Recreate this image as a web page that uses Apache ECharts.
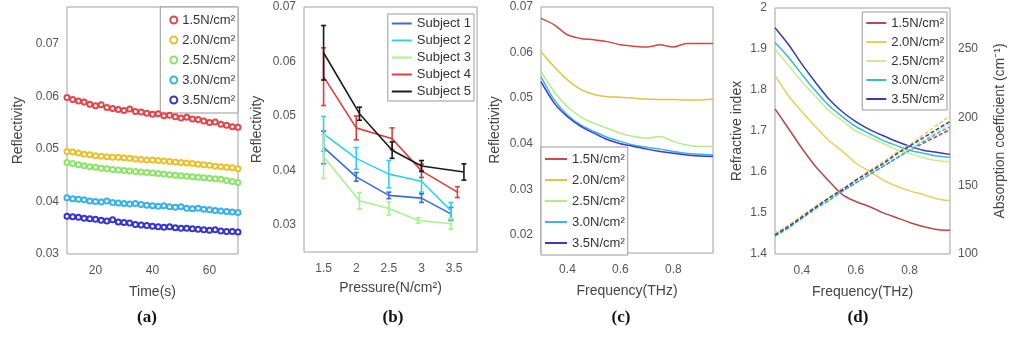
<!DOCTYPE html>
<html><head><meta charset="utf-8">
<script src="https://cdn.jsdelivr.net/npm/echarts@6/dist/echarts.min.js"></script>
<style>html,body{margin:0;padding:0;background:#fff}#c{width:1009px;height:338px}</style>
</head><body><div id="c"></div><script>
// ---------- Panel (a): reflectivity vs time ----------
const timeS = [10,12,14,16,18,20,22,24,26,28,30,32,34,36,38,40,42,44,46,48,50,52,54,56,58,60,62,64,66,68,70];
const pressLabels = ['1.5N/cm²','2.0N/cm²','2.5N/cm²','3.0N/cm²','3.5N/cm²'];
const reflA_15 = [0.0598,0.0594,0.0591,0.0589,0.0585,0.0582,0.0584,0.0579,0.0577,0.0575,0.0573,0.0576,0.0571,0.0570,0.0568,0.0566,0.0567,0.0563,0.0564,0.0561,0.0559,0.0560,0.0557,0.0556,0.0553,0.0550,0.0551,0.0547,0.0545,0.0542,0.0541];
const reflA_20 = [0.0495,0.0494,0.0492,0.0490,0.0489,0.0487,0.0486,0.0485,0.0484,0.0484,0.0483,0.0482,0.0481,0.0480,0.0479,0.0479,0.0478,0.0477,0.0476,0.0475,0.0474,0.0473,0.0472,0.0471,0.0470,0.0469,0.0467,0.0466,0.0465,0.0464,0.0462];
const reflA_25 = [0.0474,0.0472,0.0470,0.0468,0.0466,0.0465,0.0463,0.0462,0.0461,0.0460,0.0459,0.0458,0.0457,0.0456,0.0455,0.0454,0.0453,0.0452,0.0451,0.0450,0.0449,0.0448,0.0447,0.0446,0.0445,0.0444,0.0443,0.0442,0.0440,0.0438,0.0436];
const reflA_30 = [0.0407,0.0405,0.0404,0.0403,0.0401,0.0400,0.0399,0.0401,0.0398,0.0397,0.0396,0.0395,0.0396,0.0394,0.0393,0.0392,0.0391,0.0392,0.0390,0.0389,0.0390,0.0387,0.0386,0.0387,0.0385,0.0384,0.0383,0.0382,0.0381,0.0380,0.0379];
const reflA_35 = [0.0372,0.0371,0.0370,0.0368,0.0367,0.0366,0.0364,0.0363,0.0365,0.0361,0.0360,0.0359,0.0356,0.0355,0.0354,0.0353,0.0352,0.0351,0.0352,0.0350,0.0349,0.0349,0.0348,0.0347,0.0346,0.0345,0.0346,0.0344,0.0343,0.0343,0.0342];

// ---------- Panel (b): reflectivity vs pressure per subject ----------
const subjects = ['Subject 1','Subject 2','Subject 3','Subject 4','Subject 5'];
const pressB_S1 = [1.5, 2.0, 2.5, 3.0, 3.45];
const meanB_S1  = [0.0442, 0.0388, 0.0354, 0.0349, 0.0320];
const errB_S1   = [0.0030, 0.0008, 0.0006, 0.0008, 0.0012];
const pressB_S2 = [1.5, 2.0, 2.5, 3.0, 3.45];
const meanB_S2  = [0.0467, 0.0422, 0.0393, 0.0380, 0.0326];
const errB_S2   = [0.0032, 0.0020, 0.0025, 0.0020, 0.0015];
const pressB_S3 = [1.5, 2.05, 2.5, 2.95, 3.45];
const meanB_S3  = [0.0425, 0.0344, 0.0330, 0.0308, 0.0302];
const errB_S3   = [0.0040, 0.0015, 0.0012, 0.0005, 0.0010];
const pressB_S4 = [1.5, 2.0, 2.55, 3.0, 3.55];
const meanB_S4  = [0.0572, 0.0478, 0.0458, 0.0399, 0.0360];
const errB_S4   = [0.0053, 0.0022, 0.0020, 0.0012, 0.0010];
const pressB_S5 = [1.5, 2.05, 2.55, 3.0, 3.65];
const meanB_S5  = [0.0616, 0.0504, 0.0437, 0.0408, 0.0397];
const errB_S5   = [0.0050, 0.0012, 0.0015, 0.0010, 0.0015];

// ---------- Panels (c),(d): frequency spectra ----------
const freq = [0.30,0.35,0.40,0.45,0.50,0.55,0.60,0.65,0.70,0.75,0.80,0.85,0.90,0.95];
const reflC_15 = [0.0675,0.0661,0.0639,0.0631,0.0628,0.0624,0.0617,0.0614,0.0612,0.0617,0.0612,0.0620,0.0620,0.0620];
const reflC_20 = [0.0602,0.0569,0.0540,0.0519,0.0508,0.0503,0.0502,0.0500,0.0498,0.0497,0.0497,0.0496,0.0496,0.0498];
const reflC_25 = [0.0558,0.0514,0.0481,0.0459,0.0445,0.0434,0.0423,0.0416,0.0412,0.0416,0.0405,0.0397,0.0394,0.0394];
const reflC_30 = [0.0547,0.0496,0.0463,0.0441,0.0427,0.0414,0.0405,0.0397,0.0392,0.0388,0.0383,0.0379,0.0377,0.0375];
const reflC_35 = [0.0536,0.0489,0.0459,0.0438,0.0423,0.0409,0.0400,0.0394,0.0388,0.0383,0.0379,0.0375,0.0373,0.0372];

const nD_15 = [1.754,1.706,1.658,1.614,1.578,1.545,1.528,1.516,1.501,1.489,1.477,1.467,1.460,1.458];
const nD_20 = [1.835,1.786,1.747,1.711,1.677,1.651,1.622,1.602,1.581,1.566,1.554,1.545,1.535,1.530];
const nD_25 = [1.900,1.860,1.820,1.785,1.750,1.725,1.700,1.685,1.670,1.655,1.645,1.635,1.628,1.625];
const nD_30 = [1.916,1.880,1.838,1.798,1.762,1.735,1.711,1.694,1.677,1.665,1.653,1.646,1.639,1.636];
const nD_35 = [1.952,1.911,1.863,1.819,1.778,1.747,1.723,1.704,1.689,1.675,1.663,1.653,1.648,1.643];

const absD_15 = [114,120,127,134,140,146,152,158,164,170,176,181,186,191];
const absD_20 = [115,121,128,135,141,148,154,161,167,174,180,187,194,201];
const absD_25 = [114,120,127,134,140,147,153,159,165,171,177,183,189,195];
const absD_30 = [113,119,126,133,139,146,152,158,164,170,176,182,188,193];
const absD_35 = [114,120,127,134,141,147,154,160,166,173,179,185,191,197];

// ---------- styling ----------
const FONT = 'Liberation Sans';
const colA = ['#e0474c','#e6c22e','#8fe36a','#3ab0ea','#3434d0'];
const colB = ['#3b6fd6','#2fd3e6','#a6f28e','#e03e3e','#1a1a1a'];
const colC = ['#d64545','#e2c53c','#b5ea8a','#3fb4ea','#3c3cc6'];
const colD = ['#b54a4a','#e8cf55','#c8eb93','#35bcd0','#3a3ab5'];

const pairs = (xs, ys) => xs.map((x, i) => [x, ys[i]]);
const strip = n => n.split('#')[1];
const mult = (step, dec) => v => {
  const r = v / step;
  return Math.abs(r - Math.round(r)) < 1e-6 ? String(+v.toFixed(dec)) : '';
};
const mult2 = (step) => v => {
  const r = v / step;
  return Math.abs(r - Math.round(r)) < 1e-6 ? v.toFixed(2) : '';
};

const axisLabel = (fmt) => ({color:'#555', fontSize:12, fontFamily:FONT, formatter: fmt, margin: 8, showMaxLabel: true});
const nameStyle = {color:'#444', fontSize:14, fontFamily:FONT};

function xAx(grid, min, max, interval, fmt, name, gap) {
  return {type:'value', gridIndex:grid, min, max, interval,
    axisLine:{show:false}, axisTick:{show:false}, splitLine:{show:false},
    axisLabel:Object.assign(axisLabel(fmt), {margin:11}),
    name, nameLocation:'middle', nameGap:gap, nameTextStyle:nameStyle};
}
function yAx(grid, min, max, interval, fmt, name, gap, pos) {
  return {type:'value', gridIndex:grid, min, max, interval, position: pos || 'left',
    axisLine:{show:false}, axisTick:{show:false}, splitLine:{show:false},
    axisLabel:Object.assign(axisLabel(fmt), {showMaxLabel: (max * 1e6) % (interval * 1e6) === 0 ? true : false}),
    name, nameLocation:'middle', nameGap:gap, nameRotate:90, nameTextStyle:nameStyle};
}

const gridStyle = {show:true, borderColor:'#a0a0a0', borderWidth:1, backgroundColor:'#fff'};
const grids = [
  Object.assign({left:67, top:7, width:171, height:247}, gridStyle),
  Object.assign({left:304, top:7, width:173, height:245}, gridStyle),
  Object.assign({left:541, top:7, width:172, height:246}, gridStyle),
  Object.assign({left:775, top:8, width:175, height:246}, gridStyle)
];

const xAxes = [
  xAx(0, 10, 70, 10, v => (v===20||v===40||v===60) ? String(v) : '', 'Time(s)', 31),
  xAx(1, 1.2, 3.85, 0.1, mult(0.5, 1), 'Pressure(N/cm²)', 29),
  xAx(2, 0.3, 0.95, 0.05, mult(0.2, 1), 'Frequency(THz)', 31),
  xAx(3, 0.3, 0.95, 0.05, mult(0.2, 1), 'Frequency(THz)', 31)
];
const yAxes = [
  yAx(0, 0.03, 0.077, 0.01, v => v.toFixed(2), 'Reflectivity', 42),
  yAx(1, 0.025, 0.07, 0.005, mult2(0.01), 'Reflectivity', 40),
  yAx(2, 0.016, 0.07, 0.002, mult2(0.01), 'Reflectivity', 39),
  yAx(3, 1.4, 2.0, 0.1, v => String(+v.toFixed(1)), 'Refractive index', 31),
  yAx(3, 100, 280, 50, mult(50, 0), 'Absorption coefficient (cm⁻¹)', 43, 'right')
];

const series = [];
// (a)
[reflA_15, reflA_20, reflA_25, reflA_30, reflA_35].forEach((arr, i) => {
  series.push({type:'line', name:'a#' + pressLabels[i], xAxisIndex:0, yAxisIndex:0,
    data: pairs(timeS, arr), symbol:'emptyCircle', symbolSize:5, showAllSymbol:true,
    color: colA[i], lineStyle:{width:1, color:colA[i]}, itemStyle:{color:colA[i], borderWidth:1}, z: 5 - i});
});
// (b) lines + error bars
const bX = [pressB_S1, pressB_S2, pressB_S3, pressB_S4, pressB_S5];
const bM = [meanB_S1, meanB_S2, meanB_S3, meanB_S4, meanB_S5];
const bE = [errB_S1, errB_S2, errB_S3, errB_S4, errB_S5];
const bOrder = [2, 0, 1, 3, 4];
bOrder.forEach(i => {
  series.push({type:'line', name:'b#' + subjects[i], xAxisIndex:1, yAxisIndex:1,
    data: pairs(bX[i], bM[i]), symbol:'none', color: colB[i],
    lineStyle:{width:1.6, color:colB[i]}, z: 3 + i});
  series.push({type:'custom', name:'err' + i, xAxisIndex:1, yAxisIndex:1, z: 3 + i,
    data: bX[i].map((x, k) => [x, bM[i][k], bE[i][k]]),
    renderItem: (params, api) => {
      const x = api.value(0), y = api.value(1), e = api.value(2);
      const top = api.coord([x, y + e]);
      const bot = api.coord([x, y - e]);
      const st = {stroke: colB[i], lineWidth: 1.6};
      return {type:'group', children:[
        {type:'line', shape:{x1:top[0], y1:top[1], x2:bot[0], y2:bot[1]}, style:st},
        {type:'line', shape:{x1:top[0]-2.5, y1:top[1], x2:top[0]+2.5, y2:top[1]}, style:st},
        {type:'line', shape:{x1:bot[0]-2.5, y1:bot[1], x2:bot[0]+2.5, y2:bot[1]}, style:st}
      ]};
    }});
});
// (c)
[reflC_15, reflC_20, reflC_25, reflC_30, reflC_35].forEach((arr, i) => {
  series.push({type:'line', name:'c#' + pressLabels[i], xAxisIndex:2, yAxisIndex:2,
    data: pairs(freq, arr), symbol:'none', smooth:0.3, color: colC[i],
    lineStyle:{width:1.5, color:colC[i]}});
});
// (d) refractive index (solid) + absorption (dashed)
[nD_15, nD_20, nD_25, nD_30, nD_35].forEach((arr, i) => {
  series.push({type:'line', name:'d#' + pressLabels[i], xAxisIndex:3, yAxisIndex:3,
    data: pairs(freq, arr), symbol:'none', smooth:0.3, color: colD[i],
    lineStyle:{width:1.5, color:colD[i]}});
});
[absD_15, absD_20, absD_25, absD_30, absD_35].forEach((arr, i) => {
  series.push({type:'line', name:'abs' + i, xAxisIndex:3, yAxisIndex:4,
    data: pairs(freq, arr), symbol:'none', color: colD[i],
    lineStyle:{width:1.5, type:[4,2], color:colD[i]}});
});

const legText = {fontSize:13, color:'#333', fontFamily:FONT, lineHeight:14};
const legBase = {orient:'vertical', borderColor:'#999', borderWidth:1, backgroundColor:'#fff',
  textStyle: legText, formatter: strip, selectedMode:false};
const legends = [
  Object.assign({}, legBase, {right:771, top:7, data: pressLabels.map(n => 'a#' + n),
    icon:'emptyCircle', itemWidth:7, itemHeight:7, itemGap:6, padding:[6,3,6,9]}),
  Object.assign({}, legBase, {right:535, top:14, data: subjects.map(n => 'b#' + n),
    icon:'rect', itemWidth:20, itemHeight:2, itemGap:4, padding:[3,3,3,4], textStyle:Object.assign({}, legText, {lineHeight:13})}),
  Object.assign({}, legBase, {left:541, top:147, data: pressLabels.map(n => 'c#' + n),
    icon:'rect', itemWidth:22, itemHeight:2, itemGap:7, padding:[5,3,5,4]}),
  Object.assign({}, legBase, {right:62, top:12, data: pressLabels.map(n => 'd#' + n),
    icon:'rect', itemWidth:20, itemHeight:2, itemGap:5, padding:[4,3,4,4]})
];

const panelLabels = ['(a)','(b)','(c)','(d)'];
const panelX = [147, 393, 621, 858];
const graphic = panelLabels.map((t, i) => ({type:'text', x: panelX[i], y: 318,
  style:{text:t, align:'center', verticalAlign:'middle', fill:'#111',
    font:'bold 17px "Liberation Serif", serif'}}));

const chart = echarts.init(document.getElementById('c'), null, {renderer:'canvas'});
chart.setOption({
  animation:false,
  backgroundColor:'#fff',
  textStyle:{fontFamily:FONT},
  grid: grids, xAxis: xAxes, yAxis: yAxes, series, legend: legends, graphic
});
</script></body></html>
